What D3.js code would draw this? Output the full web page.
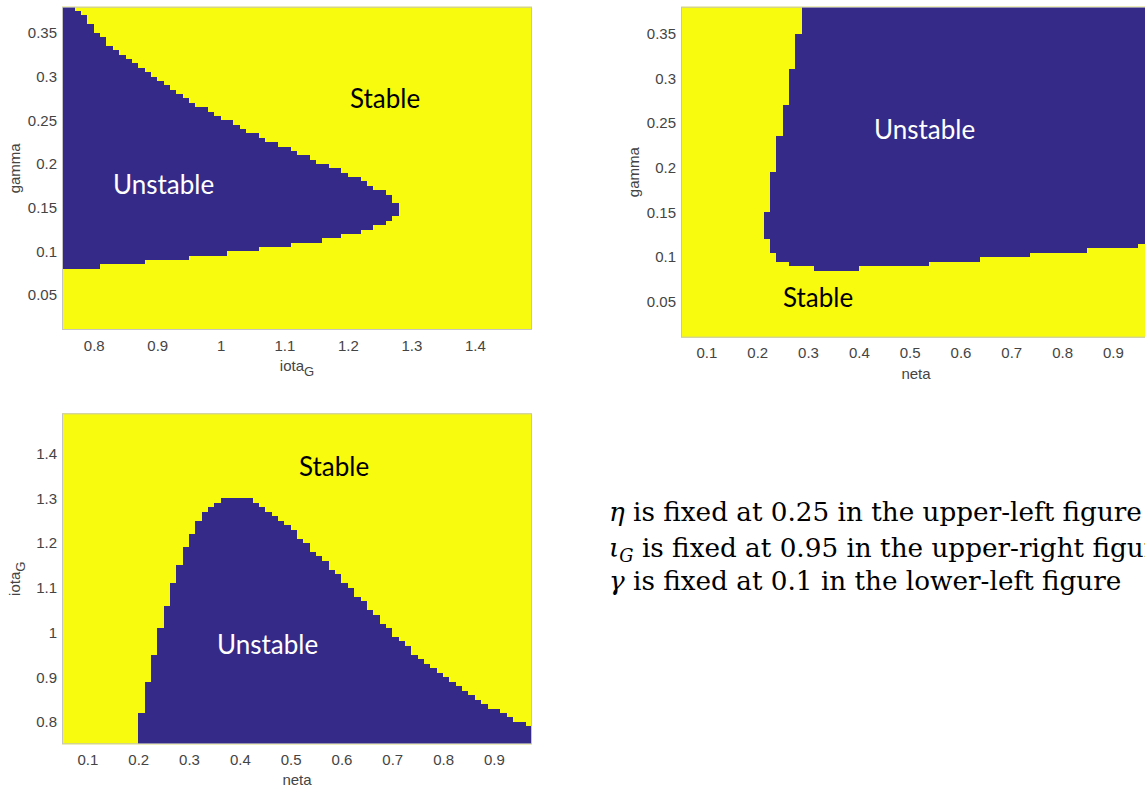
<!DOCTYPE html>
<html><head><meta charset="utf-8">
<script src="https://cdn.jsdelivr.net/npm/d3@7"></script>
<style>body{margin:0;background:#fff;overflow:hidden}svg{display:block}</style>
</head><body>
<svg id="c" width="1145" height="787"></svg>
<script>
// ---------- DATA ----------
// Upper-left panel: iota_G columns (left edges 0.75 + 0.01*i), unstable gamma band per column
const iotaGridA = {start: 0.75, step: 0.01};
const gammaUpperA = [0.38,0.38,0.375,0.37,0.36,0.35,0.345,0.335,0.33,0.325,0.32,0.315,0.31,0.305,0.30,0.295,0.29,0.285,0.28,0.275,0.27,0.265,0.265,0.26,0.255,0.25,0.25,
  0.245,0.24,0.235,0.235,0.23,0.225,0.225,0.22,0.22,0.215,0.21,0.21,0.205,0.20,0.20,0.195,0.195,0.19,0.185,0.185,0.18,0.175,0.17,0.17,0.165,0.155];
const gammaLowerA = [0.08,0.08,0.08,0.08,0.08,0.08,
  0.085,0.085,0.085,0.085,0.085,0.085,0.085,
  0.09,0.09,0.09,0.09,0.09,0.09,0.09,
  0.095,0.095,0.095,0.095,0.095,0.095,
  0.10,0.10,0.10,0.10,0.10,
  0.105,0.105,0.105,0.105,0.105,
  0.11,0.11,0.11,0.11,0.11,
  0.115,0.115,0.115,
  0.12,0.12,0.12,
  0.125,0.125,
  0.13,0.13,
  0.135,0.14];

// Upper-right panel: neta columns (left edges 0.05 + 0.0125*i), unstable gamma band per column
const netaGrid = {start: 0.05, step: 0.0125};
const gammaLowerB = [null,null,null,null,null,null,null,null,null,null,null,null,null,
  0.12,0.105,0.095,0.095,0.09,0.09,0.09,0.09,
  0.085,0.085,0.085,0.085,0.085,0.085,0.085,
  0.09,0.09,0.09,0.09,0.09,0.09,0.09,0.09,0.09,0.09,0.09,
  0.095,0.095,0.095,0.095,0.095,0.095,0.095,0.095,
  0.10,0.10,0.10,0.10,0.10,0.10,0.10,0.10,
  0.105,0.105,0.105,0.105,0.105,0.105,0.105,0.105,0.105,
  0.11,0.11,0.11,0.11,0.11,0.11,0.11,0.11,
  0.115,0.115];
const gammaUpperB = [null,null,null,null,null,null,null,null,null,null,null,null,null,
  0.15,0.195,0.235,0.27,0.31,0.35,
  0.38,0.38,0.38,0.38,0.38,0.38,0.38,0.38,0.38,0.38,0.38,0.38,0.38,0.38,0.38,0.38,0.38,0.38,0.38,0.38,
  0.38,0.38,0.38,0.38,0.38,0.38,0.38,0.38,0.38,0.38,0.38,0.38,0.38,0.38,0.38,0.38,0.38,0.38,0.38,0.38,
  0.38,0.38,0.38,0.38,0.38,0.38,0.38,0.38,0.38,0.38,0.38,0.38,0.38,0.38,0.38];

// Lower-left panel: neta columns, unstable from iota_G = 0.75 up to this value
const iotaUpperC = [null,null,null,null,null,null,null,null,null,null,null,null,
  0.82,0.89,0.95,1.01,1.06,1.11,1.15,1.19,1.22,1.25,1.27,1.28,1.29,
  1.30,1.30,1.30,1.30,1.30,
  1.29,1.28,1.27,1.26,1.25,
  1.24,1.23,1.21,1.20,1.18,1.17,1.16,1.14,1.13,1.11,1.10,1.08,1.07,1.05,1.04,1.02,1.01,0.99,0.98,
  0.97,0.95,0.94,0.93,0.92,0.91,0.90,0.89,0.88,0.87,0.86,0.85,0.84,0.83,0.83,0.82,0.81,0.80,0.80,0.79];

const ticksIota = [0.8,0.9,1,1.1,1.2,1.3,1.4];
const ticksGamma = [0.05,0.1,0.15,0.2,0.25,0.3,0.35];
const ticksNeta = [0.1,0.2,0.3,0.4,0.5,0.6,0.7,0.8,0.9];
const labelStable = "Stable", labelUnstable = "Unstable";
const notes = [
  {sym:"η", sub:"", text:" is fixed at 0.25 in the upper-left figure"},
  {sym:"ι", sub:"G", text:" is fixed at 0.95 in the upper-right figure"},
  {sym:"γ", sub:"", text:" is fixed at 0.1 in the lower-left figure"}
];

// ---------- DRAW ----------
const BLUE = "#352a87", YELLOW = "#f9fb0e", TXT = "#444";
const svg = d3.select("#c");
const fmt = d => String(+d.toFixed(2));

function panel(o){
  const g = svg.append("g");
  const x = d3.scaleLinear(o.xDomain, o.xRange);
  const y = d3.scaleLinear(o.yDomain, o.yRange);
  const [L,R] = o.xRange, [B,T] = o.yRange;
  g.append("rect").attr("x",L).attr("y",T).attr("width",R-L).attr("height",B-T).attr("fill",YELLOW);
  const cells = o.cells.filter(c => c.hi != null);
  g.append("g").attr("shape-rendering","crispEdges").selectAll("rect").data(cells).join("rect")
    .attr("x", c => x(c.x0)).attr("width", c => x(c.x1) - x(c.x0))
    .attr("y", c => y(c.hi)).attr("height", c => y(c.lo) - y(c.hi))
    .attr("fill", BLUE);
  g.append("rect").attr("x",L+0.5).attr("y",T+0.5).attr("width",R-L-1).attr("height",B-T-1)
    .attr("fill","none").attr("stroke","#c4c4c4").attr("stroke-width",1);
  const xa = g.append("g").attr("transform",`translate(0,${B})`)
    .call(d3.axisBottom(x).tickValues(o.xTicks).tickFormat(fmt).tickSize(0).tickPadding(10));
  const ya = g.append("g").attr("transform",`translate(${L},0)`)
    .call(d3.axisLeft(y).tickValues(o.yTicks).tickFormat(fmt).tickSize(0).tickPadding(5));
  [xa,ya].forEach(a=>{a.select(".domain").remove();
    a.selectAll("text").attr("fill",TXT).style("font-family","'Liberation Sans',Arial,sans-serif").style("font-size","15px");});
  const xl = g.append("text").attr("x",(L+R)/2).attr("y",B+41).attr("text-anchor","middle")
    .attr("fill",TXT).style("font-family","'Liberation Sans',Arial,sans-serif").style("font-size","15px");
  xl.append("tspan").text(o.xLabel[0]);
  if (o.xLabel[1]) xl.append("tspan").attr("dy",5).style("font-size","13px").text(o.xLabel[1]);
  const yl = g.append("text").attr("transform",`translate(${L-42},${(T+B)/2}) rotate(-90)`).attr("text-anchor","middle")
    .attr("fill",TXT).style("font-family","'Liberation Sans',Arial,sans-serif").style("font-size","15px");
  yl.append("tspan").text(o.yLabel[0]);
  if (o.yLabel[1]) yl.append("tspan").attr("dy",5).style("font-size","13px").text(o.yLabel[1]);
  o.texts.forEach(t => g.append("text").attr("x",t.x).attr("y",t.y).attr("fill",t.fill)
    .style("font-family","Lato,'Open Sans',sans-serif").style("font-size","26px").text(t.s));
}

panel({
  xDomain:[0.75,1.49], xRange:[62,532], yDomain:[0.01,0.38], yRange:[330,6.7],
  cells: gammaUpperA.map((hi,i)=>({x0: iotaGridA.start + iotaGridA.step*i, x1: iotaGridA.start + iotaGridA.step*(i+1), lo: gammaLowerA[i], hi})),
  xTicks: ticksIota, yTicks: ticksGamma, xLabel:["iota","G"], yLabel:["gamma"],
  texts:[{s:labelUnstable,x:113,y:194,fill:"#fff"},{s:labelStable,x:350,y:108,fill:"#000"}]
});
panel({
  xDomain:[0.05,0.975], xRange:[681,1151], yDomain:[0.01,0.38], yRange:[337.7,6.7],
  cells: gammaUpperB.map((hi,i)=>({x0: netaGrid.start + netaGrid.step*i, x1: netaGrid.start + netaGrid.step*(i+1), lo: gammaLowerB[i], hi})),
  xTicks: ticksNeta, yTicks: ticksGamma, xLabel:["neta"], yLabel:["gamma"],
  texts:[{s:labelUnstable,x:874,y:139,fill:"#fff"},{s:labelStable,x:783,y:307,fill:"#000"}]
});
panel({
  xDomain:[0.05,0.975], xRange:[62,532], yDomain:[0.75,1.49], yRange:[744.3,413.3],
  cells: iotaUpperC.map((hi,i)=>({x0: netaGrid.start + netaGrid.step*i, x1: netaGrid.start + netaGrid.step*(i+1), lo: 0.75, hi})),
  xTicks: ticksNeta, yTicks: ticksIota, xLabel:["neta"], yLabel:["iota","G"],
  texts:[{s:labelStable,x:299,y:476,fill:"#000"},{s:labelUnstable,x:217,y:654,fill:"#fff"}]
});

// Notes (the second line runs past the right edge, as in the reference)
const noteX = 609, noteY = [521, 557, 590], noteW = 533;
const nt = svg.append("g").style("font-family","'DejaVu Serif','Liberation Serif',serif").style("font-size","27px").attr("fill","#000");
const lines = notes.map((n,i)=>{
  const t = nt.append("text").attr("x",noteX).attr("y",noteY[i]);
  t.append("tspan").style("font-style","italic").text(n.sym);
  if (n.sub) t.append("tspan").style("font-style","italic").attr("class","sub").attr("dy",5).text(n.sub);
  t.append("tspan").attr("dy", n.sub ? -5 : 0).text(n.text);
  return t;
});
const w0 = lines[0].node().getComputedTextLength();
const fs = 27 * noteW / w0;
nt.style("font-size", fs + "px");
nt.selectAll(".sub").style("font-size", (fs*0.68) + "px");
</script>
</body></html>
